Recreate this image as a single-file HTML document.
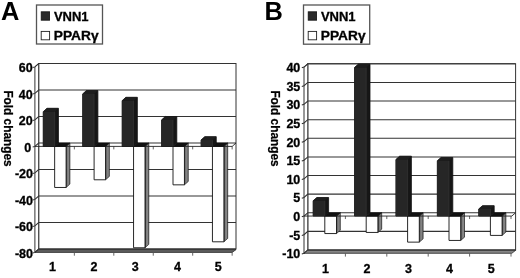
<!DOCTYPE html>
<html><head><meta charset="utf-8"><title>Figure</title>
<style>
html,body{margin:0;padding:0;background:#fff;}
body{width:520px;height:278px;overflow:hidden;font-family:"Liberation Sans",sans-serif;}
svg{display:block;filter:blur(0.4px);}
.t{font-family:"Liberation Sans",sans-serif;font-weight:bold;font-size:12.5px;fill:#000;stroke:#000;stroke-width:0.3px;}
.l{font-family:"Liberation Sans",sans-serif;font-weight:bold;font-size:12.4px;fill:#000;stroke:#000;stroke-width:0.3px;}
.p{font-family:"Liberation Sans",sans-serif;font-weight:bold;font-size:25.4px;fill:#000;}
.f{font-family:"Liberation Sans",sans-serif;font-weight:bold;font-size:12px;fill:#000;stroke:#000;stroke-width:0.25px;}
</style></head>
<body>
<svg width="520" height="278" viewBox="0 0 520 278">
<defs>
<linearGradient id="floor" x1="0" y1="0" x2="0" y2="1"><stop offset="0" stop-color="#555"/><stop offset="1" stop-color="#aaa"/></linearGradient>
<linearGradient id="side" x1="0" y1="0" x2="1" y2="0"><stop offset="0" stop-color="#4a4a4a"/><stop offset="0.35" stop-color="#7c7c7c"/><stop offset="0.75" stop-color="#888"/><stop offset="1" stop-color="#555"/></linearGradient>
</defs>
<rect x="0" y="0" width="520" height="278" fill="#fff"/>
<text x="0.9" y="19.7" class="p">A</text>
<text x="264.6" y="19.7" class="p">B</text>
<rect x="36.50" y="5.00" width="66.00" height="39.00" fill="#fff" stroke="#555" stroke-width="1.3"/>
<rect x="41.20" y="11.80" width="8.4" height="8.4" fill="#2a2a2a" stroke="#111" stroke-width="0.8"/>
<rect x="41.20" y="31.40" width="8.4" height="8.4" fill="#fff" stroke="#222" stroke-width="0.9"/>
<text transform="translate(53.90,20.80) scale(1.05,1)" class="l">VNN1</text>
<text transform="translate(53.80,40.40) scale(1.11,1)" class="l">PPARγ</text>
<rect x="303.50" y="5.00" width="66.20" height="39.20" fill="#fff" stroke="#555" stroke-width="1.3"/>
<rect x="308.20" y="11.80" width="8.4" height="8.4" fill="#2a2a2a" stroke="#111" stroke-width="0.8"/>
<rect x="308.20" y="31.40" width="8.4" height="8.4" fill="#fff" stroke="#222" stroke-width="0.9"/>
<text transform="translate(320.90,20.80) scale(1.05,1)" class="l">VNN1</text>
<text transform="translate(320.80,40.40) scale(1.11,1)" class="l">PPARγ</text>
<rect x="38.70" y="63.50" width="197.30" height="185.50" fill="#fff" stroke="#333" stroke-width="1"/>
<polygon points="34.90,66.90 38.70,63.50 38.70,249.00 34.90,252.40" fill="#fff" stroke="#333" stroke-width="1"/>
<polyline points="32.70,67.60 34.90,66.90 38.70,63.50 236.00,63.50" fill="none" stroke="#333" stroke-width="1.05"/>
<text x="32.60" y="72.40" text-anchor="end" class="t">60</text>
<polyline points="32.70,94.10 34.90,93.40 38.70,90.00 236.00,90.00" fill="none" stroke="#333" stroke-width="1.05"/>
<text x="32.60" y="98.90" text-anchor="end" class="t">40</text>
<polyline points="32.70,120.60 34.90,119.90 38.70,116.50 236.00,116.50" fill="none" stroke="#333" stroke-width="1.05"/>
<text x="32.60" y="125.40" text-anchor="end" class="t">20</text>
<polyline points="32.70,147.10 34.90,146.40 38.70,143.00 236.00,143.00" fill="none" stroke="#333" stroke-width="1.05"/>
<text x="31.30" y="151.90" text-anchor="end" class="t">0</text>
<polyline points="32.70,173.60 34.90,172.90 38.70,169.50 236.00,169.50" fill="none" stroke="#333" stroke-width="1.05"/>
<text x="33.00" y="178.40" text-anchor="end" class="t">-20</text>
<polyline points="32.70,200.10 34.90,199.40 38.70,196.00 236.00,196.00" fill="none" stroke="#333" stroke-width="1.05"/>
<text x="33.00" y="204.90" text-anchor="end" class="t">-40</text>
<polyline points="32.70,226.60 34.90,225.90 38.70,222.50 236.00,222.50" fill="none" stroke="#333" stroke-width="1.05"/>
<text x="33.00" y="231.40" text-anchor="end" class="t">-60</text>
<polyline points="32.70,253.10 34.90,252.40 38.70,249.00 236.00,249.00" fill="none" stroke="#333" stroke-width="1.05"/>
<text x="33.00" y="257.90" text-anchor="end" class="t">-80</text>
<polygon points="34.90,252.40 38.70,249.60 236.00,249.60 232.20,252.40" fill="#606060" stroke="#2a2a2a" stroke-width="0.8"/>
<line x1="74.35" y1="252.40" x2="74.35" y2="255.70" stroke="#555" stroke-width="0.9"/>
<line x1="74.35" y1="146.40" x2="74.35" y2="149.40" stroke="#555" stroke-width="0.9"/>
<line x1="113.80" y1="252.40" x2="113.80" y2="255.70" stroke="#555" stroke-width="0.9"/>
<line x1="113.80" y1="146.40" x2="113.80" y2="149.40" stroke="#555" stroke-width="0.9"/>
<line x1="153.25" y1="252.40" x2="153.25" y2="255.70" stroke="#555" stroke-width="0.9"/>
<line x1="153.25" y1="146.40" x2="153.25" y2="149.40" stroke="#555" stroke-width="0.9"/>
<line x1="192.70" y1="252.40" x2="192.70" y2="255.70" stroke="#555" stroke-width="0.9"/>
<line x1="192.70" y1="146.40" x2="192.70" y2="149.40" stroke="#555" stroke-width="0.9"/>
<line x1="232.15" y1="252.40" x2="232.15" y2="255.70" stroke="#555" stroke-width="0.9"/>
<line x1="232.15" y1="146.40" x2="232.15" y2="149.40" stroke="#555" stroke-width="0.9"/>
<polygon points="66.10,146.40 69.90,143.00 69.90,184.07 66.10,187.47" fill="url(#side)" stroke="#222" stroke-width="0.7"/>
<polygon points="54.65,146.40 66.10,146.40 66.10,187.47 54.65,187.47" fill="#fff" stroke="#111" stroke-width="0.9"/>
<polygon points="105.55,146.40 109.35,143.00 109.35,176.39 105.55,179.79" fill="url(#side)" stroke="#222" stroke-width="0.7"/>
<polygon points="94.10,146.40 105.55,146.40 105.55,179.79 94.10,179.79" fill="#fff" stroke="#111" stroke-width="0.9"/>
<polygon points="145.00,146.40 148.80,143.00 148.80,244.36 145.00,247.76" fill="url(#side)" stroke="#222" stroke-width="0.7"/>
<polygon points="133.55,146.40 145.00,146.40 145.00,247.76 133.55,247.76" fill="#fff" stroke="#111" stroke-width="0.9"/>
<polygon points="184.45,146.40 188.25,143.00 188.25,181.43 184.45,184.83" fill="url(#side)" stroke="#222" stroke-width="0.7"/>
<polygon points="173.00,146.40 184.45,146.40 184.45,184.83 173.00,184.83" fill="#fff" stroke="#111" stroke-width="0.9"/>
<polygon points="223.90,146.40 227.70,143.00 227.70,238.40 223.90,241.80" fill="url(#side)" stroke="#222" stroke-width="0.7"/>
<polygon points="212.45,146.40 223.90,146.40 223.90,241.80 212.45,241.80" fill="#fff" stroke="#111" stroke-width="0.9"/>
<polyline points="34.90,146.40 232.20,146.40 236.00,143.00" fill="none" stroke="#222" stroke-width="0.9"/>
<polygon points="54.65,146.40 58.45,143.00 69.90,143.00 66.10,146.40" fill="#111" stroke="#111" stroke-width="0.6"/>
<polygon points="94.10,146.40 97.90,143.00 109.35,143.00 105.55,146.40" fill="#111" stroke="#111" stroke-width="0.6"/>
<polygon points="133.55,146.40 137.35,143.00 148.80,143.00 145.00,146.40" fill="#111" stroke="#111" stroke-width="0.6"/>
<polygon points="173.00,146.40 176.80,143.00 188.25,143.00 184.45,146.40" fill="#111" stroke="#111" stroke-width="0.6"/>
<polygon points="212.45,146.40 216.25,143.00 227.70,143.00 223.90,146.40" fill="#111" stroke="#111" stroke-width="0.6"/>
<polygon points="43.20,111.69 47.00,108.28 58.45,108.28 58.45,143.00 54.65,146.40 43.20,146.40" fill="#161616" stroke="#111" stroke-width="0.8"/>
<polygon points="43.20,111.69 54.65,111.69 54.65,146.40 43.20,146.40" fill="#262626"/>
<polygon points="43.20,111.69 47.00,108.28 58.45,108.28 54.65,111.69" fill="#1e1e1e"/>
<line x1="54.65" y1="111.69" x2="54.65" y2="146.40" stroke="#3a3a3a" stroke-width="0.6"/>
<polygon points="82.65,93.93 86.45,90.53 97.90,90.53 97.90,143.00 94.10,146.40 82.65,146.40" fill="#161616" stroke="#111" stroke-width="0.8"/>
<polygon points="82.65,93.93 94.10,93.93 94.10,146.40 82.65,146.40" fill="#262626"/>
<polygon points="82.65,93.93 86.45,90.53 97.90,90.53 94.10,93.93" fill="#1e1e1e"/>
<line x1="94.10" y1="93.93" x2="94.10" y2="146.40" stroke="#3a3a3a" stroke-width="0.6"/>
<polygon points="122.10,100.69 125.90,97.29 137.35,97.29 137.35,143.00 133.55,146.40 122.10,146.40" fill="#161616" stroke="#111" stroke-width="0.8"/>
<polygon points="122.10,100.69 133.55,100.69 133.55,146.40 122.10,146.40" fill="#262626"/>
<polygon points="122.10,100.69 125.90,97.29 137.35,97.29 133.55,100.69" fill="#1e1e1e"/>
<line x1="133.55" y1="100.69" x2="133.55" y2="146.40" stroke="#3a3a3a" stroke-width="0.6"/>
<polygon points="161.55,119.90 165.35,116.50 176.80,116.50 176.80,143.00 173.00,146.40 161.55,146.40" fill="#161616" stroke="#111" stroke-width="0.8"/>
<polygon points="161.55,119.90 173.00,119.90 173.00,146.40 161.55,146.40" fill="#262626"/>
<polygon points="161.55,119.90 165.35,116.50 176.80,116.50 173.00,119.90" fill="#1e1e1e"/>
<line x1="173.00" y1="119.90" x2="173.00" y2="146.40" stroke="#3a3a3a" stroke-width="0.6"/>
<polygon points="201.00,140.04 204.80,136.64 216.25,136.64 216.25,143.00 212.45,146.40 201.00,146.40" fill="#161616" stroke="#111" stroke-width="0.8"/>
<polygon points="201.00,140.04 212.45,140.04 212.45,146.40 201.00,146.40" fill="#262626"/>
<polygon points="201.00,140.04 204.80,136.64 216.25,136.64 212.45,140.04" fill="#1e1e1e"/>
<line x1="212.45" y1="140.04" x2="212.45" y2="146.40" stroke="#3a3a3a" stroke-width="0.6"/>
<text x="52.40" y="270.60" text-anchor="middle" class="t">1</text>
<text x="94.00" y="270.60" text-anchor="middle" class="t">2</text>
<text x="135.20" y="270.60" text-anchor="middle" class="t">3</text>
<text x="177.40" y="270.60" text-anchor="middle" class="t">4</text>
<text x="218.30" y="270.60" text-anchor="middle" class="t">5</text>
<rect x="307.80" y="63.80" width="207.80" height="186.20" fill="#fff" stroke="#333" stroke-width="1"/>
<polygon points="304.00,67.10 307.80,63.80 307.80,250.00 304.00,253.30" fill="#fff" stroke="#333" stroke-width="1"/>
<polyline points="301.80,67.80 304.00,67.10 307.80,63.80 515.60,63.80" fill="none" stroke="#333" stroke-width="1.05"/>
<text x="300.30" y="72.10" text-anchor="end" class="t">40</text>
<polyline points="301.80,86.42 304.00,85.72 307.80,82.42 515.60,82.42" fill="none" stroke="#333" stroke-width="1.05"/>
<text x="300.30" y="90.72" text-anchor="end" class="t">35</text>
<polyline points="301.80,105.04 304.00,104.34 307.80,101.04 515.60,101.04" fill="none" stroke="#333" stroke-width="1.05"/>
<text x="300.30" y="109.34" text-anchor="end" class="t">30</text>
<polyline points="301.80,123.66 304.00,122.96 307.80,119.66 515.60,119.66" fill="none" stroke="#333" stroke-width="1.05"/>
<text x="300.30" y="127.96" text-anchor="end" class="t">25</text>
<polyline points="301.80,142.28 304.00,141.58 307.80,138.28 515.60,138.28" fill="none" stroke="#333" stroke-width="1.05"/>
<text x="300.30" y="146.58" text-anchor="end" class="t">20</text>
<polyline points="301.80,160.90 304.00,160.20 307.80,156.90 515.60,156.90" fill="none" stroke="#333" stroke-width="1.05"/>
<text x="300.30" y="165.20" text-anchor="end" class="t">15</text>
<polyline points="301.80,179.52 304.00,178.82 307.80,175.52 515.60,175.52" fill="none" stroke="#333" stroke-width="1.05"/>
<text x="300.30" y="183.82" text-anchor="end" class="t">10</text>
<polyline points="301.80,198.14 304.00,197.44 307.80,194.14 515.60,194.14" fill="none" stroke="#333" stroke-width="1.05"/>
<text x="300.30" y="202.44" text-anchor="end" class="t">5</text>
<polyline points="301.80,216.76 304.00,216.06 307.80,212.76 515.60,212.76" fill="none" stroke="#333" stroke-width="1.05"/>
<text x="300.30" y="221.06" text-anchor="end" class="t">0</text>
<polyline points="301.80,235.38 304.00,234.68 307.80,231.38 515.60,231.38" fill="none" stroke="#333" stroke-width="1.05"/>
<text x="300.30" y="239.68" text-anchor="end" class="t">-5</text>
<polyline points="301.80,254.00 304.00,253.30 307.80,250.00 515.60,250.00" fill="none" stroke="#333" stroke-width="1.05"/>
<text x="300.30" y="258.30" text-anchor="end" class="t">-10</text>
<polygon points="304.00,253.30 307.80,250.35 515.60,250.35 511.80,253.30" fill="#858585" stroke="#2a2a2a" stroke-width="0.8"/>
<line x1="345.40" y1="253.30" x2="345.40" y2="256.60" stroke="#555" stroke-width="0.9"/>
<line x1="345.40" y1="216.06" x2="345.40" y2="219.06" stroke="#555" stroke-width="0.9"/>
<line x1="386.80" y1="253.30" x2="386.80" y2="256.60" stroke="#555" stroke-width="0.9"/>
<line x1="386.80" y1="216.06" x2="386.80" y2="219.06" stroke="#555" stroke-width="0.9"/>
<line x1="428.20" y1="253.30" x2="428.20" y2="256.60" stroke="#555" stroke-width="0.9"/>
<line x1="428.20" y1="216.06" x2="428.20" y2="219.06" stroke="#555" stroke-width="0.9"/>
<line x1="469.60" y1="253.30" x2="469.60" y2="256.60" stroke="#555" stroke-width="0.9"/>
<line x1="469.60" y1="216.06" x2="469.60" y2="219.06" stroke="#555" stroke-width="0.9"/>
<line x1="511.00" y1="253.30" x2="511.00" y2="256.60" stroke="#555" stroke-width="0.9"/>
<line x1="511.00" y1="216.06" x2="511.00" y2="219.06" stroke="#555" stroke-width="0.9"/>
<polygon points="336.50,216.06 340.30,212.76 340.30,230.26 336.50,233.56" fill="url(#side)" stroke="#222" stroke-width="0.7"/>
<polygon points="324.80,216.06 336.50,216.06 336.50,233.56 324.80,233.56" fill="#fff" stroke="#111" stroke-width="0.9"/>
<polygon points="377.90,216.06 381.70,212.76 381.70,229.15 377.90,232.45" fill="url(#side)" stroke="#222" stroke-width="0.7"/>
<polygon points="366.20,216.06 377.90,216.06 377.90,232.45 366.20,232.45" fill="#fff" stroke="#111" stroke-width="0.9"/>
<polygon points="419.30,216.06 423.10,212.76 423.10,238.83 419.30,242.13" fill="url(#side)" stroke="#222" stroke-width="0.7"/>
<polygon points="407.60,216.06 419.30,216.06 419.30,242.13 407.60,242.13" fill="#fff" stroke="#111" stroke-width="0.9"/>
<polygon points="460.70,216.06 464.50,212.76 464.50,237.15 460.70,240.45" fill="url(#side)" stroke="#222" stroke-width="0.7"/>
<polygon points="449.00,216.06 460.70,216.06 460.70,240.45 449.00,240.45" fill="#fff" stroke="#111" stroke-width="0.9"/>
<polygon points="502.10,216.06 505.90,212.76 505.90,232.12 502.10,235.42" fill="url(#side)" stroke="#222" stroke-width="0.7"/>
<polygon points="490.40,216.06 502.10,216.06 502.10,235.42 490.40,235.42" fill="#fff" stroke="#111" stroke-width="0.9"/>
<polyline points="304.00,216.06 511.80,216.06 515.60,212.76" fill="none" stroke="#222" stroke-width="0.9"/>
<polygon points="324.80,216.06 328.60,212.76 340.30,212.76 336.50,216.06" fill="#111" stroke="#111" stroke-width="0.6"/>
<polygon points="366.20,216.06 370.00,212.76 381.70,212.76 377.90,216.06" fill="#111" stroke="#111" stroke-width="0.6"/>
<polygon points="407.60,216.06 411.40,212.76 423.10,212.76 419.30,216.06" fill="#111" stroke="#111" stroke-width="0.6"/>
<polygon points="449.00,216.06 452.80,212.76 464.50,212.76 460.70,216.06" fill="#111" stroke="#111" stroke-width="0.6"/>
<polygon points="490.40,216.06 494.20,212.76 505.90,212.76 502.10,216.06" fill="#111" stroke="#111" stroke-width="0.6"/>
<polygon points="313.10,200.79 316.90,197.49 328.60,197.49 328.60,212.76 324.80,216.06 313.10,216.06" fill="#161616" stroke="#111" stroke-width="0.8"/>
<polygon points="313.10,200.79 324.80,200.79 324.80,216.06 313.10,216.06" fill="#262626"/>
<polygon points="313.10,200.79 316.90,197.49 328.60,197.49 324.80,200.79" fill="#1e1e1e"/>
<line x1="324.80" y1="200.79" x2="324.80" y2="216.06" stroke="#3a3a3a" stroke-width="0.6"/>
<polygon points="354.50,67.47 358.30,64.17 370.00,64.17 370.00,212.76 366.20,216.06 354.50,216.06" fill="#161616" stroke="#111" stroke-width="0.8"/>
<polygon points="354.50,67.47 366.20,67.47 366.20,216.06 354.50,216.06" fill="#262626"/>
<polygon points="354.50,67.47 358.30,64.17 370.00,64.17 366.20,67.47" fill="#1e1e1e"/>
<line x1="366.20" y1="67.47" x2="366.20" y2="216.06" stroke="#3a3a3a" stroke-width="0.6"/>
<polygon points="395.90,159.46 399.70,156.16 411.40,156.16 411.40,212.76 407.60,216.06 395.90,216.06" fill="#161616" stroke="#111" stroke-width="0.8"/>
<polygon points="395.90,159.46 407.60,159.46 407.60,216.06 395.90,216.06" fill="#262626"/>
<polygon points="395.90,159.46 399.70,156.16 411.40,156.16 407.60,159.46" fill="#1e1e1e"/>
<line x1="407.60" y1="159.46" x2="407.60" y2="216.06" stroke="#3a3a3a" stroke-width="0.6"/>
<polygon points="437.30,160.76 441.10,157.46 452.80,157.46 452.80,212.76 449.00,216.06 437.30,216.06" fill="#161616" stroke="#111" stroke-width="0.8"/>
<polygon points="437.30,160.76 449.00,160.76 449.00,216.06 437.30,216.06" fill="#262626"/>
<polygon points="437.30,160.76 441.10,157.46 452.80,157.46 449.00,160.76" fill="#1e1e1e"/>
<line x1="449.00" y1="160.76" x2="449.00" y2="216.06" stroke="#3a3a3a" stroke-width="0.6"/>
<polygon points="478.70,208.98 482.50,205.68 494.20,205.68 494.20,212.76 490.40,216.06 478.70,216.06" fill="#161616" stroke="#111" stroke-width="0.8"/>
<polygon points="478.70,208.98 490.40,208.98 490.40,216.06 478.70,216.06" fill="#262626"/>
<polygon points="478.70,208.98 482.50,205.68 494.20,205.68 490.40,208.98" fill="#1e1e1e"/>
<line x1="490.40" y1="208.98" x2="490.40" y2="216.06" stroke="#3a3a3a" stroke-width="0.6"/>
<text x="325.50" y="273.40" text-anchor="middle" class="t">1</text>
<text x="366.90" y="273.40" text-anchor="middle" class="t">2</text>
<text x="408.40" y="273.40" text-anchor="middle" class="t">3</text>
<text x="449.50" y="273.40" text-anchor="middle" class="t">4</text>
<text x="491.30" y="273.40" text-anchor="middle" class="t">5</text>
<text class="f" transform="translate(4.4,90.4) rotate(90) scale(0.985,1)">Fold changes</text>
<text class="f" transform="translate(270.8,90.4) rotate(90) scale(0.985,1)">Fold changes</text>
</svg>
</body></html>
